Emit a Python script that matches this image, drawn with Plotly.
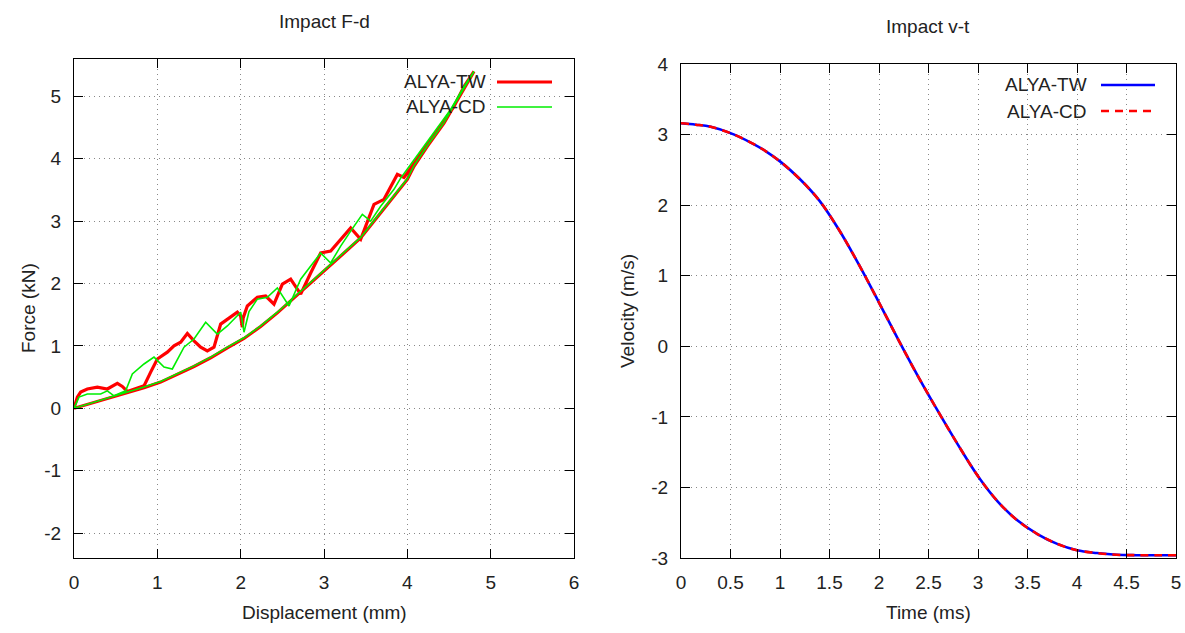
import plotly.graph_objects as go

# ---------------- data ----------------
# Impact F-d : ALYA-TW (loading branch then unloading branch)
tw_disp = [0.0, 0.04, 0.08, 0.16, 0.28, 0.40, 0.52, 0.58, 0.64, 0.74, 0.84, 0.92, 1.0, 1.12, 1.20,
           1.28, 1.36, 1.44, 1.52, 1.60, 1.68, 1.76, 1.84, 1.96, 2.0, 2.02, 2.03, 2.08, 2.20,
           2.30, 2.40, 2.50, 2.60, 2.72, 2.84, 2.96, 3.08, 3.16, 3.32, 3.44, 3.60, 3.72, 3.88,
           3.96, 4.08, 4.24, 4.40, 4.56, 4.68, 4.80,
           4.64, 4.44, 4.24, 4.08, 4.00, 3.84, 3.64, 3.44, 3.24, 3.04, 2.84, 2.64, 2.44, 2.24,
           2.04, 1.84, 1.64, 1.44, 1.24, 1.04, 0.84, 0.64, 0.44, 0.24, 0.0]
tw_force = [0.0, 0.18, 0.26, 0.31, 0.34, 0.31, 0.40, 0.35, 0.27, 0.31, 0.36, 0.58, 0.79, 0.90, 1.00,
            1.06, 1.20, 1.08, 0.98, 0.92, 0.98, 1.35, 1.43, 1.54, 1.48, 1.30, 1.45, 1.64, 1.78,
            1.80, 1.67, 1.99, 2.07, 1.83, 2.17, 2.49, 2.52, 2.65, 2.89, 2.71, 3.27, 3.35, 3.75,
            3.70, 3.93, 4.23, 4.52, 4.84, 5.16, 5.40,
            5.03, 4.57, 4.20, 3.88, 3.67, 3.40, 3.08, 2.73, 2.49, 2.25, 2.01, 1.76, 1.53, 1.31,
            1.12, 0.97, 0.81, 0.67, 0.54, 0.42, 0.33, 0.25, 0.17, 0.10, 0.0]

# Impact F-d : ALYA-CD
cd_disp = [0.0, 0.06, 0.16, 0.32, 0.40, 0.48, 0.62, 0.70, 0.84, 0.96, 1.08, 1.18, 1.32, 1.44,
           1.58, 1.72, 1.84, 1.96, 2.0, 2.04, 2.10, 2.20, 2.32, 2.44, 2.58, 2.72, 2.84, 2.96,
           3.08, 3.20, 3.32, 3.46, 3.56, 3.68, 3.84, 3.92, 4.04, 4.20, 4.36, 4.52, 4.68, 4.80,
           4.64, 4.44, 4.24, 4.08, 4.00, 3.84, 3.64, 3.44, 3.24, 3.04, 2.84, 2.64, 2.44, 2.24,
           2.04, 1.84, 1.64, 1.44, 1.24, 1.04, 0.84, 0.64, 0.44, 0.24, 0.0]
cd_force = [0.0, 0.18, 0.23, 0.23, 0.28, 0.20, 0.28, 0.55, 0.71, 0.82, 0.66, 0.63, 0.98, 1.11,
            1.38, 1.19, 1.32, 1.48, 1.54, 1.22, 1.55, 1.75, 1.78, 1.93, 1.64, 2.07, 2.28, 2.49,
            2.33, 2.60, 2.84, 3.11, 3.00, 3.24, 3.51, 3.69, 3.91, 4.20, 4.49, 4.79, 5.16, 5.40,
            5.04, 4.58, 4.21, 3.89, 3.68, 3.41, 3.09, 2.74, 2.50, 2.26, 2.02, 1.77, 1.54, 1.32,
            1.13, 0.98, 0.82, 0.68, 0.55, 0.43, 0.34, 0.26, 0.18, 0.10, 0.0]

# Impact v-t
time_ms = [0.0, 0.15, 0.3, 0.5, 0.7, 0.85, 1.0, 1.2, 1.4, 1.6, 1.8, 2.0, 2.2, 2.4, 2.6, 2.8,
           3.0, 3.2, 3.4, 3.6, 3.8, 4.0, 4.2, 4.4, 4.6, 4.8, 5.0]
vel_tw = [3.16, 3.14, 3.11, 3.02, 2.89, 2.77, 2.62, 2.37, 2.06, 1.64, 1.15, 0.62, 0.08, -0.44,
          -0.93, -1.40, -1.84, -2.20, -2.47, -2.66, -2.80, -2.89, -2.93, -2.955, -2.96, -2.96, -2.96]
vel_cd = [3.16, 3.14, 3.11, 3.02, 2.89, 2.77, 2.62, 2.37, 2.06, 1.64, 1.15, 0.62, 0.08, -0.44,
          -0.93, -1.40, -1.84, -2.20, -2.47, -2.66, -2.80, -2.89, -2.93, -2.955, -2.96, -2.96, -2.96]

fd_xticks = [0, 1, 2, 3, 4, 5, 6]
fd_xlabels = ["0", "1", "2", "3", "4", "5", "6"]
fd_yticks = [-2, -1, 0, 1, 2, 3, 4, 5]
fd_ylabels = ["-2", "-1", "0", "1", "2", "3", "4", "5"]
vt_xticks = [0, 0.5, 1, 1.5, 2, 2.5, 3, 3.5, 4, 4.5, 5]
vt_xlabels = ["0", "0.5", "1", "1.5", "2", "2.5", "3", "3.5", "4", "4.5", "5"]
vt_yticks = [-3, -2, -1, 0, 1, 2, 3, 4]
vt_ylabels = ["-3", "-2", "-1", "0", "1", "2", "3", "4"]

series_names = ["ALYA-TW", "ALYA-CD"]

# ---------------- figure ----------------
W, H = 1185, 633
FONT = "Liberation Sans, Arial, sans-serif"
TXT = "#222222"
FS = 19


def px(x):
    return x / W


def py(y):
    return 1 - y / H


fig = go.Figure()
fig.add_trace(go.Scatter(x=tw_disp, y=tw_force, mode="lines", name=series_names[0],
                         line=dict(color="#ff0000", width=3.2), xaxis="x", yaxis="y"))
fig.add_trace(go.Scatter(x=cd_disp, y=cd_force, mode="lines", name=series_names[1],
                         line=dict(color="#00ee00", width=1.6), xaxis="x", yaxis="y"))
fig.add_trace(go.Scatter(x=time_ms, y=vel_tw, mode="lines", name=series_names[0],
                         line=dict(color="#0000ff", width=2.6, shape="spline"), xaxis="x2", yaxis="y2"))
fig.add_trace(go.Scatter(x=time_ms, y=vel_cd, mode="lines", name=series_names[1],
                         line=dict(color="#ff0000", width=2.6, dash="8px,6px", shape="spline"),
                         xaxis="x2", yaxis="y2"))

axis_common = dict(showline=True, linecolor="#000000", linewidth=1, mirror="ticks",
                   ticks="inside", ticklen=9, tickcolor="#000000", tickwidth=1,
                   showgrid=True, gridcolor="#888888", griddash="1px,4px", gridwidth=1,
                   zeroline=False, automargin=False,
                   tickfont=dict(family=FONT, size=FS, color=TXT))

fig.update_layout(
    width=W, height=H, autosize=False,
    margin=dict(l=0, r=0, t=0, b=0, pad=0),
    paper_bgcolor="white", plot_bgcolor="white",
    showlegend=False,
    xaxis=dict(axis_common, domain=[px(74), px(574)], range=[0, 6], tickvals=fd_xticks,
               ticktext=fd_xlabels, anchor="y", ticklabelstandoff=7),
    yaxis=dict(axis_common, domain=[py(558), py(59)], range=[-2.4, 5.6], tickvals=fd_yticks,
               ticktext=fd_ylabels, anchor="x", ticklabelstandoff=8),
    xaxis2=dict(axis_common, domain=[px(681), px(1176)], range=[0, 5], tickvals=vt_xticks,
                ticktext=vt_xlabels, anchor="y2", ticklabelstandoff=7),
    yaxis2=dict(axis_common, domain=[py(558), py(64)], range=[-3, 4], tickvals=vt_yticks,
                ticktext=vt_ylabels, anchor="x2", ticklabelstandoff=8),
)

annots = [
    ("Impact F-d", 324, 21, 0),
    ("Impact v-t", 928, 27, 0),
    ("Displacement (mm)", 324, 612, 0),
    ("Time (ms)", 928, 612, 0),
    ("Force (kN)", 28, 308, -90),
    ("Velocity (m/s)", 628, 311, -90),
]
for text, x, y, ang in annots:
    fig.add_annotation(text=text, x=px(x), y=py(y), xref="paper", yref="paper",
                       showarrow=False, textangle=ang, xanchor="center", yanchor="middle",
                       font=dict(family=FONT, size=FS, color=TXT))

# gnuplot-style legends (text right-aligned, sample line to the right)
legend_specs = [
    # (name, text right edge, y, line x0, line x1, color, width, dash)
    (series_names[0], 488, 82, 497, 552, "#ff0000", 3.2, "solid"),
    (series_names[1], 488, 107, 497, 552, "#00ee00", 1.6, "solid"),
    (series_names[0], 1089, 85, 1101, 1155, "#0000ff", 2.6, "solid"),
    (series_names[1], 1089, 111, 1101, 1155, "#ff0000", 2.6, "8px,6px"),
]
for name, xr, y, x0, x1, col, w, dash in legend_specs:
    fig.add_annotation(text=name, x=px(xr), y=py(y), xref="paper", yref="paper",
                       showarrow=False, xanchor="right", yanchor="middle",
                       font=dict(family=FONT, size=FS, color=TXT))
    fig.add_shape(type="line", xref="paper", yref="paper", x0=px(x0), x1=px(x1),
                  y0=py(y), y1=py(y), line=dict(color=col, width=w, dash=dash))

fig.write_html("out.html", config={"displayModeBar": False},
               post_script="document.body.style.margin='0';")
